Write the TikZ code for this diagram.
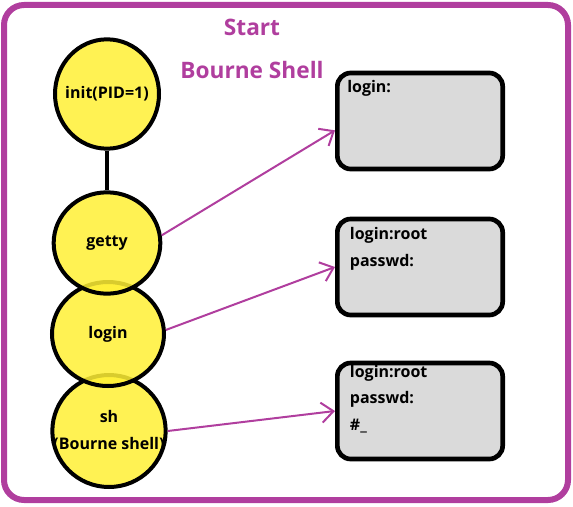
\documentclass[tikz,border=0pt]{standalone}
\usepackage{fontspec}
\setmainfont{Open Sans}
\usepackage{tikz}
\usetikzlibrary{shapes.geometric, arrows.meta, positioning}
\definecolor{shpurple}{HTML}{B03E9E}
\definecolor{procyel}{HTML}{FFF035}
\definecolor{ttygray}{HTML}{DADADA}

\begin{document}
\begin{tikzpicture}[
  x=0.75pt, y=-0.75pt,
  every node/.style={font=\bfseries\fontsize{12}{20}\selectfont},
  proc/.style ={ellipse, draw=black, line width=3pt, fill=procyel,
                fill opacity=0.85, text opacity=1, inner sep=-20pt, align=center},
  scr/.style  ={draw=black, line width=3.5pt, rounded corners=10pt, fill=ttygray,
                minimum width=124pt, minimum height=72pt},
  txt/.style  ={anchor=north west, align=left, inner sep=0pt},
  tit/.style  ={text=shpurple, font=\bfseries\fontsize{17}{20}\selectfont},
  arr/.style  ={-{Straight Barb[length=9pt,width=15pt]}, line width=1.5pt, draw=shpurple},
  link/.style ={line width=3pt, draw=black}
]
\useasboundingbox (0,0) rectangle (573,506);

%% ─── frame + titles ────────────────────────────────────────────────────────
\draw[draw=shpurple, line width=4.5pt, rounded corners=15pt] (4,5) rectangle (568,500);
\node[tit] (t_start) at (252,27) {Start};
\node[tit] (t_shell) at (252,70) {Bourne Shell};

%% ─── process chain ─────────────────────────────────────────────────────────
\node[proc, minimum width=85pt, minimum height=84pt] (sh)    at (109,431) {sh\\(Bourne shell)};
\node[proc, minimum width=84pt, minimum height=78pt] (login) at (108,334) {login};
\node[proc, minimum width=80pt, minimum height=76pt] (getty) at (107,243) {getty};
\node[proc, minimum width=78pt, minimum height=82pt] (init)  at (107,94)  {init(PID=1)};

\draw[link] (init.south) -- (getty.north);

%% ─── terminal screens ──────────────────────────────────────────────────────
\node[scr] (scr1) at (420,121) {};
\node[scr] (scr2) at (420,267) {};
\node[scr] (scr3) at (420,411) {};

\node[txt] (scr1_t) at ([xshift=9pt,yshift=-7pt]scr1.north west) {login:};
\node[txt] (scr2_t) at ([xshift=11pt,yshift=-8pt]scr2.north west) {login:root\\passwd:};
\node[txt] (scr3_t) at ([xshift=11pt,yshift=-3pt]scr3.north west) {login:root\\passwd:\\\#\_};

\draw[arr] (getty.8) -- ([yshift=-7pt]scr1.west);
\draw[arr] (login.4) -- (scr2.west);
\draw[arr] (sh.0)    -- (scr3.west);

\end{tikzpicture}
\end{document}
